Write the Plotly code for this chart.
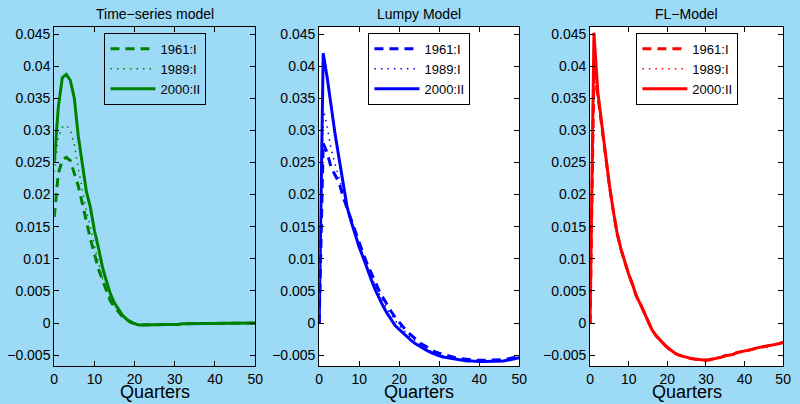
import plotly.graph_objects as go

quarters = list(range(51))

ts_1961 = [0.0165, 0.0232, 0.0254, 0.0258, 0.0253, 0.0234, 0.0213, 0.0186, 0.0158, 0.0131,
           0.0108, 0.0084, 0.0067, 0.0050, 0.0034, 0.0025, 0.0018, 0.0010, 0.0005, 0.0001,
           -0.0001, -0.0003, -0.0003, -0.0003, -0.0003, -0.0003, -0.0003, -0.0002, -0.0002, -0.0002,
           -0.0002, -0.0002, -0.0001, -0.0001, -0.0001, -0.0001, -0.0001, 0.0, 0.0, 0.0,
           0.0, 0.0, 0.0, 0.0, 0.0, 0.0, 0.0, 0.0, 0.0, 0.0, 0.0]
ts_1989 = [0.0235, 0.0290, 0.0305, 0.0308, 0.0300, 0.0278, 0.0240, 0.0207, 0.0175, 0.0149,
           0.0120, 0.0094, 0.0070, 0.0051, 0.0036, 0.0027, 0.0018, 0.0011, 0.0005, 0.0001,
           -0.0001, -0.0003, -0.0003, -0.0003, -0.0003, -0.0003, -0.0003, -0.0002, -0.0002, -0.0002,
           -0.0002, -0.0002, -0.0001, -0.0001, -0.0001, -0.0001, -0.0001, 0.0, 0.0, 0.0,
           0.0, 0.0, 0.0, 0.0, 0.0, 0.0, 0.0, 0.0, 0.0, 0.0, 0.0]
ts_2000 = [0.0250, 0.0335, 0.0382, 0.0387, 0.0378, 0.0350, 0.0290, 0.0245, 0.0205, 0.0180,
           0.0144, 0.0117, 0.0087, 0.0065, 0.0045, 0.0031, 0.0021, 0.0012, 0.0006, 0.0002,
           -0.0001, -0.0003, -0.0003, -0.0003, -0.0003, -0.0003, -0.0003, -0.0002, -0.0002, -0.0002,
           -0.0002, -0.0002, -0.0001, -0.0001, -0.0001, -0.0001, -0.0001, 0.0, 0.0, 0.0,
           0.0, 0.0, 0.0, 0.0, 0.0, 0.0, 0.0, 0.0, 0.0, 0.0, 0.0]

lumpy_1961 = [0.0, 0.0280, 0.0265, 0.0242, 0.0230, 0.0218, 0.0196, 0.0178, 0.0160, 0.0142,
              0.0125, 0.0108, 0.0092, 0.0077, 0.0063, 0.0050, 0.0039, 0.0028, 0.0018, 0.0009,
              0.0001, -0.0006, -0.0013, -0.0019, -0.0025, -0.0030, -0.0034, -0.0038, -0.0042, -0.0045,
              -0.0047, -0.0049, -0.0051, -0.0053, -0.0054, -0.0055, -0.0056, -0.0057, -0.0057, -0.0058,
              -0.0058, -0.0058, -0.0058, -0.0058, -0.0058, -0.0058, -0.0057, -0.0056, -0.0055, -0.0053, -0.0052]
lumpy_1989 = [0.0, 0.0335, 0.0305, 0.0270, 0.0247, 0.0225, 0.0203, 0.0180, 0.0160, 0.0140,
              0.0122, 0.0105, 0.0088, 0.0073, 0.0058, 0.0045, 0.0033, 0.0022, 0.0012, 0.0004,
              -0.0004, -0.0011, -0.0017, -0.0023, -0.0028, -0.0033, -0.0037, -0.0040, -0.0044, -0.0046,
              -0.0049, -0.0051, -0.0053, -0.0054, -0.0056, -0.0057, -0.0058, -0.0058, -0.0059, -0.0059,
              -0.0059, -0.0059, -0.0059, -0.0059, -0.0059, -0.0058, -0.0058, -0.0057, -0.0056, -0.0054, -0.0053]
lumpy_2000 = [0.0, 0.0420, 0.0382, 0.0335, 0.0293, 0.0255, 0.0215, 0.0180, 0.0158, 0.0137,
              0.0118, 0.0102, 0.0084, 0.0068, 0.0052, 0.0038, 0.0026, 0.0015, 0.0005, -0.0004,
              -0.0010, -0.0016, -0.0022, -0.0027, -0.0032, -0.0036, -0.0040, -0.0043, -0.0046, -0.0049,
              -0.0051, -0.0053, -0.0054, -0.0056, -0.0057, -0.0058, -0.0058, -0.0059, -0.0059, -0.0060,
              -0.0060, -0.0060, -0.0060, -0.0060, -0.0060, -0.0059, -0.0059, -0.0058, -0.0057, -0.0056, -0.0054]

fl_1961 = [0.0, 0.0395, 0.0355, 0.0305, 0.0263, 0.0214, 0.0175, 0.0140, 0.0115, 0.0095,
           0.0076, 0.0060, 0.0042, 0.0030, 0.0017, 0.0005, -0.0010, -0.0019, -0.0026, -0.0032,
           -0.0038, -0.0043, -0.0047, -0.0050, -0.0052, -0.0054, -0.0055, -0.0056, -0.0057, -0.0058,
           -0.0058, -0.0057, -0.0056, -0.0054, -0.0053, -0.0051, -0.0050, -0.0049, -0.0046, -0.0045,
           -0.0043, -0.0042, -0.0041, -0.0039, -0.0038, -0.0037, -0.0036, -0.0034, -0.0033, -0.0032, -0.0030]
fl_1989 = [0.0, 0.0385, 0.0350, 0.0303, 0.0262, 0.0214, 0.0175, 0.0140, 0.0115, 0.0095,
           0.0076, 0.0060, 0.0042, 0.0030, 0.0017, 0.0005, -0.0010, -0.0019, -0.0026, -0.0032,
           -0.0038, -0.0043, -0.0047, -0.0050, -0.0052, -0.0054, -0.0055, -0.0056, -0.0057, -0.0058,
           -0.0058, -0.0057, -0.0056, -0.0054, -0.0053, -0.0051, -0.0050, -0.0049, -0.0046, -0.0045,
           -0.0043, -0.0042, -0.0041, -0.0039, -0.0038, -0.0037, -0.0036, -0.0034, -0.0033, -0.0032, -0.0030]
fl_2000 = [0.0, 0.0452, 0.0360, 0.0310, 0.0265, 0.0215, 0.0175, 0.0140, 0.0115, 0.0095,
           0.0076, 0.0060, 0.0042, 0.0030, 0.0017, 0.0005, -0.0010, -0.0019, -0.0026, -0.0032,
           -0.0038, -0.0043, -0.0047, -0.0050, -0.0052, -0.0054, -0.0055, -0.0056, -0.0057, -0.0058,
           -0.0058, -0.0057, -0.0056, -0.0054, -0.0053, -0.0051, -0.0050, -0.0049, -0.0046, -0.0045,
           -0.0043, -0.0042, -0.0041, -0.0039, -0.0038, -0.0037, -0.0036, -0.0034, -0.0033, -0.0032, -0.0030]

series_names = ["1961:I", "1989:I", "2000:II"]
panel_titles = ["Time\u2212series model", "Lumpy Model", "FL\u2212Model"]
x_title = "Quarters"
x_tickvals = [0, 10, 20, 30, 40, 50]
x_ticktext = ["0", "10", "20", "30", "40", "50"]
y_tickvals = [-0.005, 0, 0.005, 0.01, 0.015, 0.02, 0.025, 0.03, 0.035, 0.04, 0.045]
y_ticktext = ["\u22120.005", "0", "0.005", "0.01", "0.015", "0.02", "0.025", "0.03", "0.035", "0.04", "0.045"]

BG = "#9DDAF6"
FONT = "Liberation Sans, Arial, Helvetica, sans-serif"
panels = [
    (panel_titles[0], [ts_1961, ts_1989, ts_2000], "#008000", BG),
    (panel_titles[1], [lumpy_1961, lumpy_1989, lumpy_2000], "#0000FF", "#FFFFFF"),
    (panel_titles[2], [fl_1961, fl_1989, fl_2000], "#FF0000", "#FFFFFF"),
]
x_domains = [[51 / 800, 255 / 800], [320 / 800, 523 / 800], [595 / 800, 791 / 800]]
y_domain = [1 - 366 / 404, 1 - 26 / 404]
legend_x = [102 / 800, 370 / 800, 642 / 800]
styles = [dict(dash="9px,6px", width=3), dict(dash="1.5px,5px", width=1.5), dict(dash="solid", width=3)]

fig = go.Figure()
layout = {}
shapes = []
annotations = []
for i, (title, data, color, pbg) in enumerate(panels):
    n = "" if i == 0 else str(i + 1)
    xa, ya = "x" + n, "y" + n
    lg = "legend" + n
    for name, vals, st in zip(series_names, data, styles):
        fig.add_trace(go.Scatter(x=quarters, y=vals, mode="lines", name=name,
                                 xaxis=xa, yaxis=ya, legend=lg,
                                 line=dict(color=color, width=st["width"], dash=st["dash"])))
    layout["xaxis" + n] = dict(domain=x_domains[i], range=[0, 50], anchor=ya,
                               tickvals=x_tickvals, ticktext=x_ticktext,
                               ticks="inside", ticklen=5, tickcolor="#000", mirror="ticks",
                               showline=True, linecolor="#000", linewidth=1, showgrid=False,
                               zeroline=False, tickfont=dict(size=14, color="#000", family=FONT))
    layout["yaxis" + n] = dict(domain=y_domain, range=[-0.0067, 0.0461], anchor=xa,
                               tickvals=y_tickvals, ticktext=y_ticktext,
                               ticks="inside", ticklen=5, tickcolor="#000", mirror="ticks",
                               showline=True, linecolor="#000", linewidth=1, showgrid=False,
                               zeroline=False, tickfont=dict(size=14, color="#000", family=FONT))
    layout[lg] = dict(x=legend_x[i], y=1 - 32 / 404, xanchor="left", yanchor="top",
                      bgcolor=pbg, bordercolor="#000", borderwidth=1,
                      font=dict(size=13, color="#000", family=FONT), itemwidth=45,
                      tracegroupgap=0)
    shapes.append(dict(type="rect", xref=xa + " domain", yref=ya + " domain",
                       x0=0, x1=1, y0=0, y1=1, fillcolor=pbg, line=dict(width=0), layer="below"))
    annotations.append(dict(text=title, xref=xa + " domain", yref="paper", x=0.5,
                            y=1 - 13 / 404, xanchor="center", yanchor="middle", showarrow=False,
                            font=dict(size=14, color="#000", family=FONT)))
    annotations.append(dict(text=x_title, xref=xa + " domain", yref="paper", x=0.5,
                            y=1 - 392 / 404, xanchor="center", yanchor="middle", showarrow=False,
                            font=dict(size=18, color="#000", family=FONT)))

fig.update_layout(**layout)
fig.update_layout(width=800, height=404, margin=dict(l=0, r=0, t=0, b=0),
                  paper_bgcolor=BG, plot_bgcolor="#FFFFFF", shapes=shapes,
                  annotations=annotations, showlegend=True)
fig.write_html("out.html")
